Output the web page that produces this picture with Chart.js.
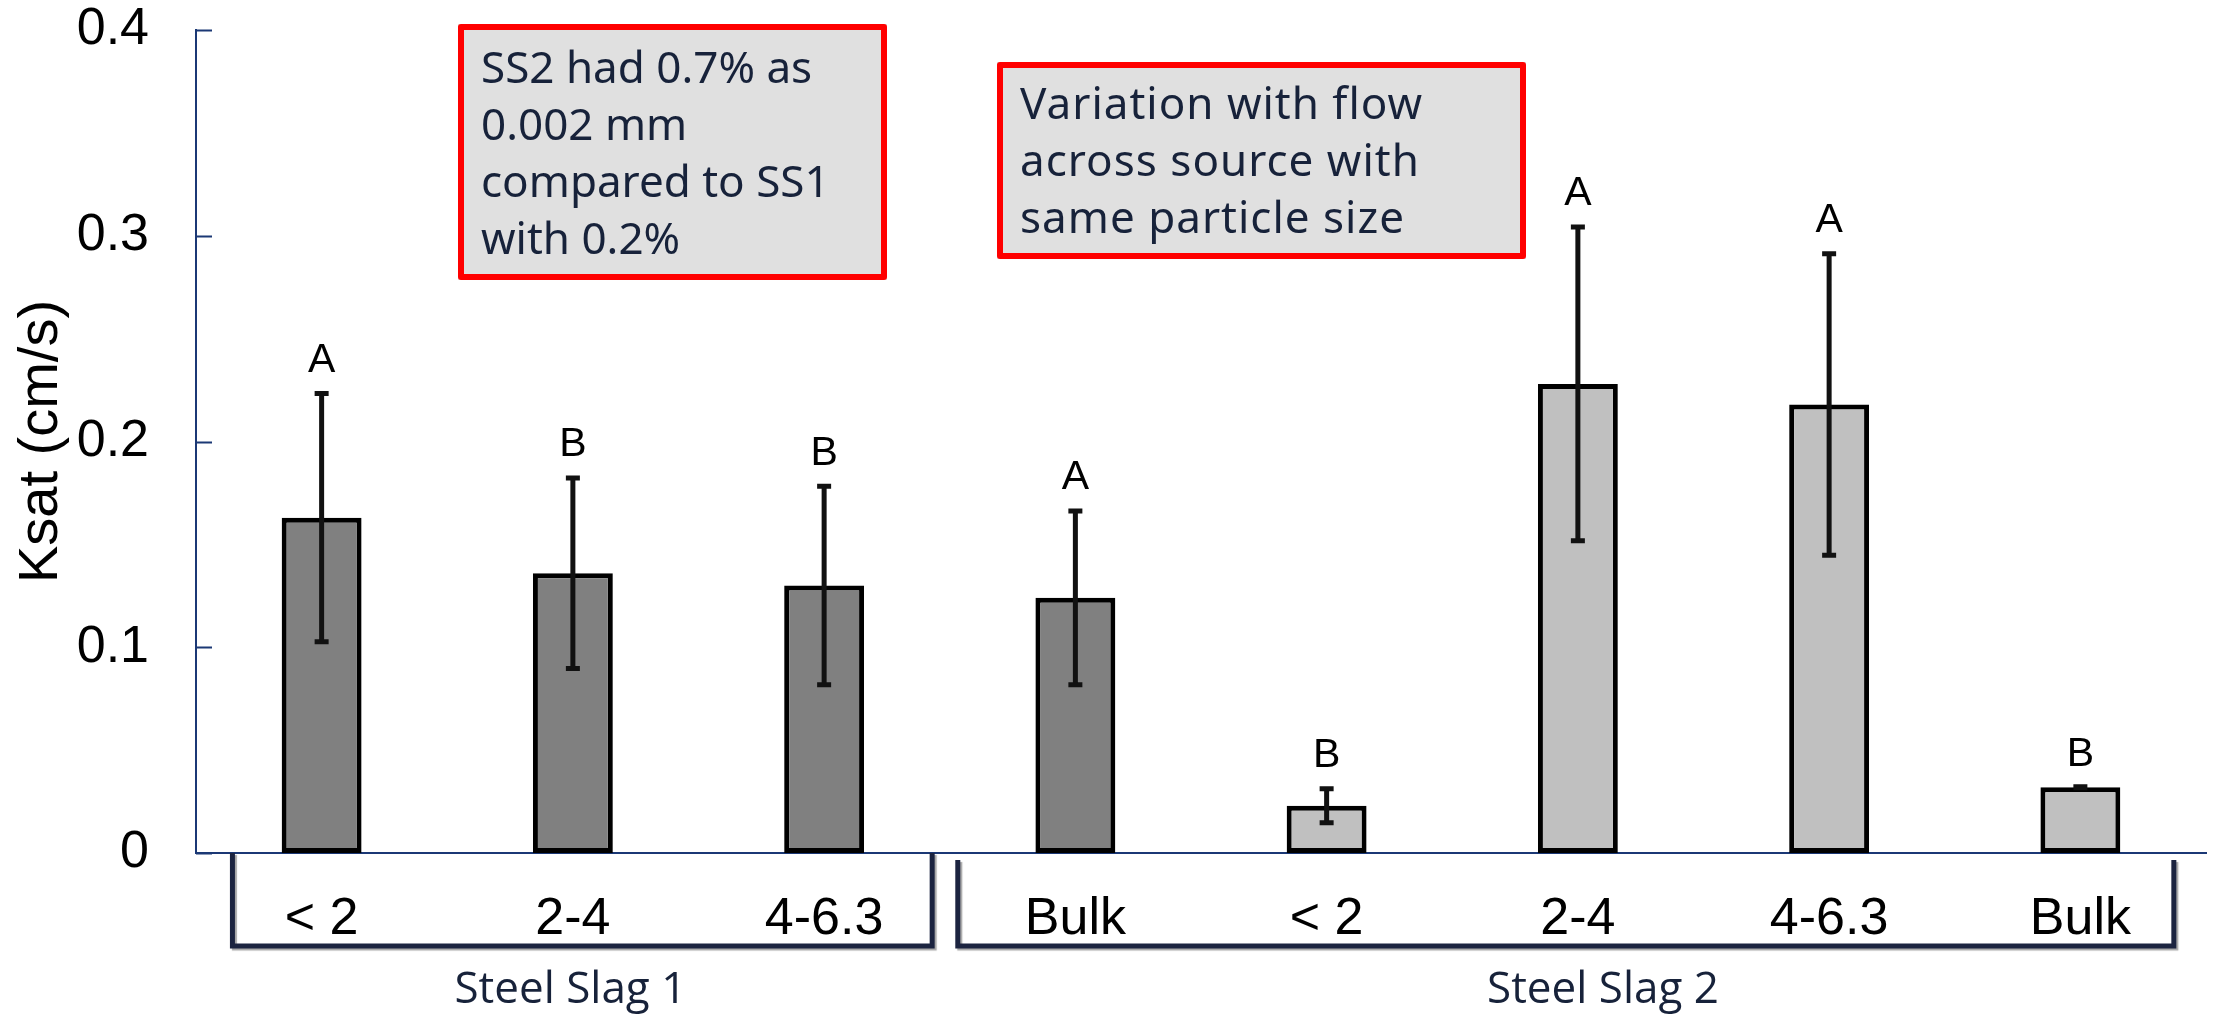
<!DOCTYPE html>
<html>
<head>
<meta charset="utf-8">
<script src="https://cdn.jsdelivr.net/npm/chart.js@4.4.1/dist/chart.umd.min.js"></script>
<style>
  html, body { margin: 0; padding: 0; background: #ffffff; }
  #wrap { width: 2221px; height: 1022px; position: relative; }
</style>
</head>
<body>
<div id="wrap"><canvas id="ksat" width="2221" height="1022"></canvas></div>
<script>
// Particle size classes (mm) for each column
const sizeClasses = ['< 2', '2-4', '4-6.3', 'Bulk', '< 2', '2-4', '4-6.3', 'Bulk'];
// Slag source of each column
const slagSource = ['SS1', 'SS1', 'SS1', 'SS1', 'SS2', 'SS2', 'SS2', 'SS2'];
// Mean saturated hydraulic conductivity (cm/s)
const ksatMean = [0.163, 0.136, 0.130, 0.124, 0.023, 0.228, 0.218, 0.032];
// Standard deviation (cm/s)
const ksatSd = [0.061, 0.047, 0.049, 0.043, 0.009, 0.077, 0.074, 0.0005];
// Mean separation letters
const sigLetters = ['A', 'B', 'B', 'A', 'B', 'A', 'A', 'B'];
// Y axis tick values
const yTickValues = [0, 0.1, 0.2, 0.3, 0.4];
// Group captions under the axis
const groupNames = ['Steel Slag 1', 'Steel Slag 2'];
// Callout texts
const noteSourceLines = ['SS2 had 0.7% as', '0.002 mm', 'compared to SS1', 'with 0.2%'];
const noteFlowLines = ['Variation with flow', 'across source with', 'same particle size'];

const sourceColor = { SS1: '#808080', SS2: '#c0c0c0' };
const AXIS_BLUE = '#1b3875';
const NAVY_TEXT = '#17223a';
const ARIAL = '"Liberation Sans", Arial, sans-serif';

// Bracket extents and caption centres in category units
const groupLayout = [
  { from: -0.355, to: 2.43, topGap: 0, caption: 0.99 },
  { from: 2.532, to: 7.372, topGap: 7, caption: 5.1 }
];

const annotate = {
  id: 'annotate',
  afterDatasetsDraw(chart) {
    const { ctx, scales: { y } } = chart;
    const meta = chart.getDatasetMeta(0);
    ctx.save();
    meta.data.forEach((bar, i) => {
      const cx = bar.x;
      const hi = y.getPixelForValue(ksatMean[i] + ksatSd[i]);
      const lo = y.getPixelForValue(ksatMean[i] - ksatSd[i]);
      ctx.strokeStyle = '#111111';
      ctx.lineWidth = 5;
      ctx.lineCap = 'butt';
      ctx.beginPath();
      ctx.moveTo(cx, hi); ctx.lineTo(cx, lo);
      ctx.moveTo(cx - 7, hi + 1.5); ctx.lineTo(cx + 7, hi + 1.5);
      ctx.moveTo(cx - 7, lo - 1.5); ctx.lineTo(cx + 7, lo - 1.5);
      ctx.stroke();
      ctx.fillStyle = '#000000';
      ctx.font = '41px ' + ARIAL;
      ctx.textAlign = 'center';
      ctx.textBaseline = 'alphabetic';
      ctx.fillText(sigLetters[i], cx, hi - 20);
    });
    ctx.restore();
  },
  afterDraw(chart) {
    const { ctx, chartArea: area, scales: { x, y } } = chart;
    ctx.save();

    // inward tick marks on the value axis
    ctx.strokeStyle = AXIS_BLUE;
    ctx.lineWidth = 2;
    ctx.beginPath();
    yTickValues.forEach(v => {
      const py = Math.round(y.getPixelForValue(v)) + 0.5;
      ctx.moveTo(area.left, py);
      ctx.lineTo(area.left + 16, py);
    });
    ctx.stroke();

    // group brackets with captions
    const step = x.getPixelForValue(1) - x.getPixelForValue(0);
    const pos = t => x.getPixelForValue(0) + t * step;
    const bottomY = 946;
    groupLayout.forEach((g, gi) => {
      const l = pos(g.from), r = pos(g.to);
      ctx.save();
      ctx.shadowColor = 'rgba(0,0,0,0.35)';
      ctx.shadowOffsetX = 2;
      ctx.shadowOffsetY = 2;
      ctx.shadowBlur = 1;
      ctx.strokeStyle = '#1c2440';
      ctx.lineWidth = 5;
      ctx.lineJoin = 'miter';
      ctx.beginPath();
      ctx.moveTo(l, area.bottom + g.topGap);
      ctx.lineTo(l, bottomY);
      ctx.lineTo(r, bottomY);
      ctx.lineTo(r, area.bottom + g.topGap);
      ctx.stroke();
      ctx.restore();

      ctx.fillStyle = NAVY_TEXT;
      ctx.font = '44px "Open Sans", "Noto Sans", sans-serif';
      ctx.textAlign = 'center';
      ctx.textBaseline = 'alphabetic';
      ctx.fillText(groupNames[gi], pos(g.caption), 1003);
    });

    // callout boxes
    const drawNote = (bx, by, bw, bh, lines, firstBase, spacing) => {
      ctx.fillStyle = '#e0e0e0';
      ctx.fillRect(bx, by, bw, bh);
      ctx.strokeStyle = '#ff0000';
      ctx.lineWidth = 6;
      ctx.lineJoin = 'round';
      ctx.strokeRect(bx + 3, by + 3, bw - 6, bh - 6);
      ctx.fillStyle = NAVY_TEXT;
      ctx.font = '44px "Noto Sans", "Open Sans", sans-serif';
      ctx.letterSpacing = spacing;
      ctx.textAlign = 'left';
      ctx.textBaseline = 'alphabetic';
      lines.forEach((s, k) => ctx.fillText(s, bx + 23, firstBase + k * 57));
      ctx.letterSpacing = '0px';
    };
    drawNote(458, 24, 429, 256, noteSourceLines, 83, '0px');
    drawNote(997, 62, 529, 197, noteFlowLines, 119, '1px');

    ctx.restore();
  }
};

new Chart(document.getElementById('ksat'), {
  type: 'bar',
  data: {
    labels: sizeClasses,
    datasets: [{
      label: 'Ksat',
      data: ksatMean,
      backgroundColor: slagSource.map(s => sourceColor[s]),
      borderColor: '#000000',
      borderWidth: 5,
      borderSkipped: false,
      categoryPercentage: 1,
      barPercentage: 0.318
    }]
  },
  options: {
    responsive: false,
    animation: false,
    devicePixelRatio: 1,
    layout: { padding: { top: 30, right: 15, left: 0, bottom: 0 } },
    plugins: { legend: { display: false }, tooltip: { enabled: false } },
    scales: {
      x: {
        offset: true,
        grid: { display: false, drawTicks: false },
        border: { display: true, color: AXIS_BLUE, width: 2 },
        ticks: { color: '#000000', font: { family: ARIAL, size: 52 }, padding: 35, maxRotation: 0, autoSkip: false },
        afterFit(scale) {
          scale.height = 169;
          scale.paddingLeft = 0;
          scale.paddingRight = 0;
        }
      },
      y: {
        min: 0,
        max: 0.4,
        afterBuildTicks(scale) { scale.ticks = yTickValues.map(v => ({ value: v })); },
        grid: { display: false, drawTicks: false },
        border: { display: true, color: AXIS_BLUE, width: 2 },
        ticks: {
          color: '#000000',
          font: { family: ARIAL, size: 52 },
          padding: 47,
          callback: v => (v === 0 ? '0' : String(Number(v.toFixed(1))))
        },
        title: {
          display: true,
          text: 'Ksat (cm/s)',
          color: '#000000',
          font: { family: ARIAL, size: 56 },
          padding: { top: 8, bottom: 0 }
        },
        afterFit(scale) {
          scale.width = 196;
          scale.paddingTop = 0;
          scale.paddingBottom = 0;
        }
      }
    }
  },
  plugins: [annotate]
});
</script>
</body>
</html>
